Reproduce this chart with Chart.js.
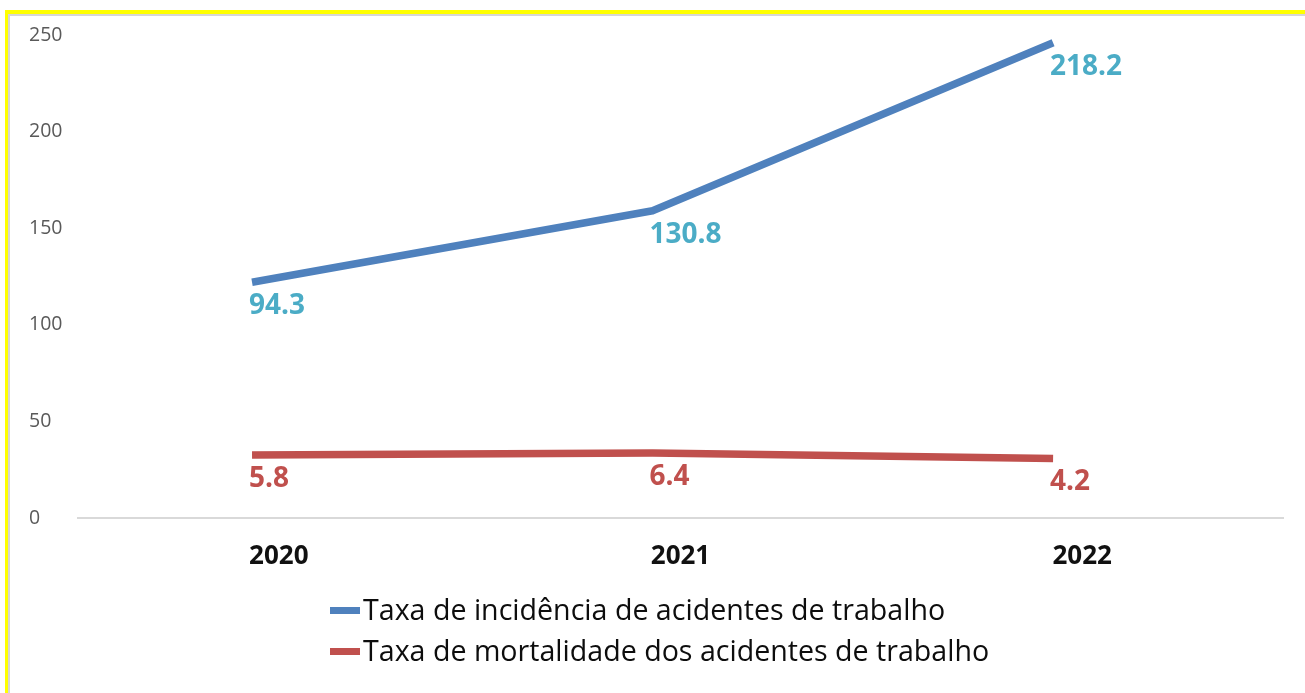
<!DOCTYPE html>
<html>
<head>
<meta charset="utf-8">
<script src="https://cdn.jsdelivr.net/npm/chart.js@4.4.1/dist/chart.umd.min.js"></script>
<style>
  html, body { margin: 0; padding: 0; background: #fff; width: 1305px; height: 693px; overflow: hidden; }
  #frame { position: absolute; left: 5px; top: 10px; right: 0; bottom: 0; border-top: 4px solid #ffff00; border-left: 3px solid #ffff00; }
  #frame .inner { position: absolute; left: 0; top: 0; right: 0; bottom: 0; border-top: 2px solid #d6d6d6; border-left: 2px solid #d6d6d6; }
  #wrap { position: absolute; left: 0; top: 0; width: 1305px; height: 693px; z-index: 2; }
  #legend { position: absolute; left: 330px; top: 588px; z-index: 3; font-family: "Open Sans", sans-serif; font-size: 28.6px; color: #0d0d0d; }
  #legend .row { height: 41px; line-height: 41px; white-space: nowrap; }
  #legend .box { display: inline-block; width: 30px; height: 7px; vertical-align: middle; margin-right: 3px; position: relative; top: -2px; }
</style>
</head>
<body>
<div id="frame"><div class="inner"></div></div>
<div id="wrap"><canvas id="c" width="1305" height="693"></canvas></div>
<div id="legend"></div>
<script>
// ---- data ----
const years = ['2020', '2021', '2022'];
const seriesNames = ['Taxa de incidência de acidentes de trabalho', 'Taxa de mortalidade dos acidentes de trabalho'];
const incidenciaPlot = [122, 159, 246];
const mortalidadePlot = [32.6, 33.6, 30.8];
// data label texts printed in the picture
const incidenciaLabels = ['94.3', '130.8', '218.2'];
const mortalidadeLabels = ['5.8', '6.4', '4.2'];
const yTicks = [0, 50, 100, 150, 200, 250];

const lineColors = ['#4F81BD', '#C0504D'];
const labelColors = ['#4BACC6', '#C0504D'];
const pointLabels = [incidenciaLabels, mortalidadeLabels];

const dataLabelPlugin = {
  id: 'dataLabels',
  afterDatasetsDraw(chart) {
    const ctx = chart.ctx;
    ctx.save();
    ctx.font = 'bold 28px "Open Sans", sans-serif';
    ctx.textAlign = 'left';
    ctx.textBaseline = 'middle';
    chart.data.datasets.forEach((ds, i) => {
      const meta = chart.getDatasetMeta(i);
      ctx.fillStyle = labelColors[i];
      meta.data.forEach((pt, j) => {
        ctx.fillText(pointLabels[i][j], pt.x - 3, pt.y + 24);
      });
    });
    ctx.restore();
  }
};

const toXY = arr => arr.map((v, i) => ({ x: i, y: v }));

new Chart(document.getElementById('c'), {
  type: 'line',
  data: {
    labels: years,
    datasets: [
      { label: seriesNames[0], data: toXY(incidenciaPlot), xAxisID: 'xl', borderColor: lineColors[0], backgroundColor: lineColors[0], borderWidth: 7.5, pointRadius: 0, tension: 0, borderJoinStyle: 'round' },
      { label: seriesNames[1], data: toXY(mortalidadePlot), xAxisID: 'xl', borderColor: lineColors[1], backgroundColor: lineColors[1], borderWidth: 7.5, pointRadius: 0, tension: 0, borderJoinStyle: 'round' }
    ]
  },
  options: {
    responsive: false,
    animation: false,
    events: [],
    layout: { padding: { left: 29, right: 22, top: 35, bottom: 125 } },
    plugins: { legend: { display: false }, tooltip: { enabled: false } },
    scales: {
      x: {
        type: 'category', labels: years, offset: true, position: 'bottom',
        grid: { display: false },
        border: { display: true, color: '#d9d9d9', width: 2 },
        ticks: { color: '#111', font: { family: '"Open Sans", sans-serif', size: 26, weight: 'bold' }, padding: 15, maxRotation: 0 },
        afterFit: s => { s.height = 50; }
      },
      xl: { type: 'linear', display: false, min: -0.4345, max: 2.574 },
      y: {
        min: 0, max: 250,
        afterBuildTicks: s => { s.ticks = yTicks.map(v => ({ value: v })); },
        grid: { display: false },
        border: { display: false },
        ticks: { color: '#595959', font: { family: '"Open Sans", sans-serif', size: 19.5 }, crossAlign: 'far', padding: 10 },
        afterFit: s => { s.width = 49; }
      }
    }
  },
  plugins: [dataLabelPlugin]
});

const legendEl = document.getElementById('legend');
seriesNames.forEach((name, i) => {
  const row = document.createElement('div');
  row.className = 'row';
  const box = document.createElement('span');
  box.className = 'box';
  box.style.background = lineColors[i];
  row.appendChild(box);
  row.appendChild(document.createTextNode(name));
  legendEl.appendChild(row);
});
</script>
</body>
</html>
